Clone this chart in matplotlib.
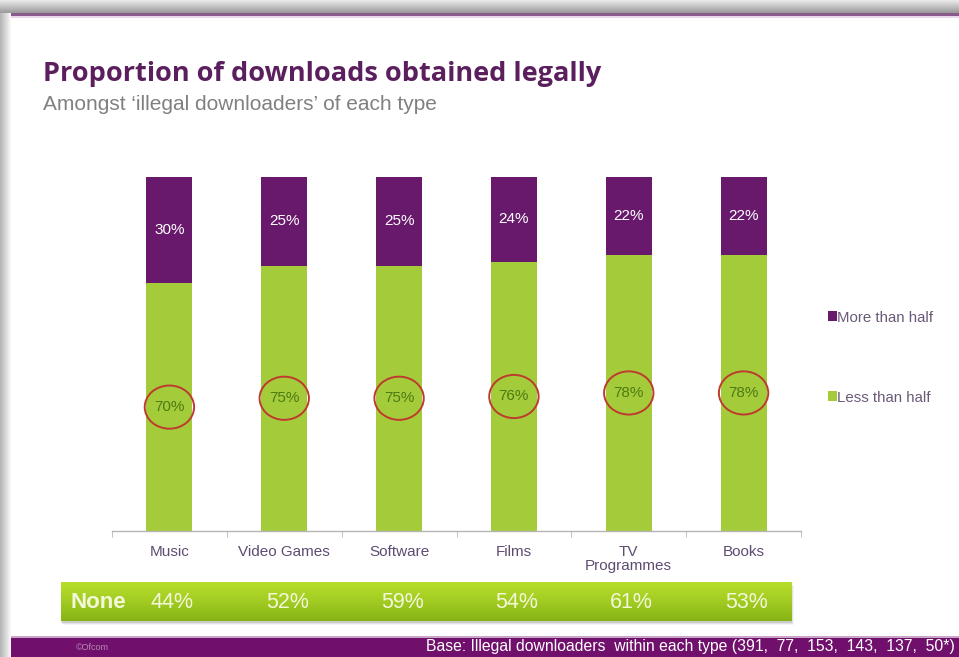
import numpy as np
import matplotlib
matplotlib.use("Agg")
import matplotlib.pyplot as plt
from matplotlib.patches import Ellipse, Rectangle

# --- data -------------------------------------------------------------
categories = ["Music", "Video Games", "Software", "Films", "TV\nProgrammes", "Books"]
less_than_half = [70, 75, 75, 76, 78, 78]
more_than_half = [30, 25, 25, 24, 22, 22]
none_share = [44, 52, 59, 54, 61, 53]
series_labels = ["More than half", "Less than half"]

PURPLE = "#68196c"
GREEN = "#a4cc3a"
NARROW = ["Liberation Sans Narrow", "Liberation Sans", "DejaVu Sans"]

W, H = 959, 657
fig = plt.figure(figsize=(W / 100, H / 100), dpi=100, facecolor="white")


def box(x0, y0, x1, y1):
    """pixel box (top-left origin) -> figure fraction rect"""
    return [x0 / W, 1 - y1 / H, (x1 - x0) / W, (y1 - y0) / H]


# --- slide background, frame shadows, footer --------------------------
bg = fig.add_axes([0, 0, 1, 1], zorder=0)
bg.axis("off")

top_grad = np.linspace(0.92, 0.60, 50).reshape(-1, 1)
bg.imshow(top_grad, cmap="gray", vmin=0, vmax=1, extent=[0, W, 13, 0],
          aspect="auto", interpolation="bicubic", zorder=1)
left_grad = np.linspace(0.70, 0.98, 50).reshape(1, -1)
bg.imshow(left_grad, cmap="gray", vmin=0, vmax=1, extent=[0, 11, H, 13],
          aspect="auto", interpolation="bicubic", zorder=1)
bg.add_patch(Rectangle((11, 13), W - 11, 2.5, color="#8a5a8c", lw=0, zorder=2))
bg.add_patch(Rectangle((11, 15.5), W - 11, 2, color="#e8d8ea", lw=0, zorder=2))

bg.add_patch(Rectangle((11, 638), W - 11, H - 638, color="#70106c", lw=0, zorder=2))
bg.add_patch(Rectangle((11, 636), W - 11, 2, color="#c9a6c8", lw=0, zorder=2))
bg.text(76, 648, "\u00a9Ofcom", fontsize=6.5, color="#b888b5", va="center",
        family=NARROW, zorder=3)
bg.text(955, 647, "Base: Illegal downloaders  within each type (391,  77,  153,  143,  137,  50*)",
        fontsize=11.3, color="white", va="center", ha="right", family=NARROW, zorder=3)

# title block
bg.text(43, 74, "Proportion of downloads obtained legally", fontsize=19.5,
        fontweight="bold", color="#5b1f5e", va="center",
        family=["Open Sans", "DejaVu Sans"], zorder=3)
bg.text(43, 104, "Amongst \u2018illegal downloaders\u2019 of each type", fontsize=15,
        color="#808080", va="center", family=NARROW, zorder=3)

# green "None" band with a soft drop shadow
for i, a in enumerate([0.10, 0.07, 0.04]):
    bg.add_patch(Rectangle((61 + i, 584 + i), 731, 39, color="black", alpha=a,
                           lw=0, zorder=2))
band_grad = np.linspace(0, 1, 60).reshape(-1, 1)
band_cmap = matplotlib.colors.LinearSegmentedColormap.from_list(
    "band", ["#b8de2c", "#a2cc22", "#86b314"])
bg.imshow(band_grad, cmap=band_cmap, extent=[61, 792, 621, 582],
          aspect="auto", interpolation="bicubic", zorder=2.5)
bg.text(70, 602, "None", fontsize=16, fontweight="bold", color="#f3f8da",
        va="center", zorder=3, family=["Liberation Sans", "DejaVu Sans"])
bg.set_xlim(0, W)
bg.set_ylim(H, 0)

# --- stacked bars -----------------------------------------------------
ax = fig.add_axes(box(112, 177, 801, 531), zorder=1)
ax.patch.set_alpha(0)
x = np.arange(len(categories))
bw = 0.40
b_less = ax.bar(x, less_than_half, bw, color=GREEN, label=series_labels[1])
b_more = ax.bar(x, more_than_half, bw, bottom=less_than_half, color=PURPLE,
                label=series_labels[0])
ax.set_xlim(-0.5, len(categories) - 0.5)
ax.set_ylim(0, 100)

for xi, lo, hi in zip(x, less_than_half, more_than_half):
    ax.text(xi, lo + hi / 2, f"{hi}%", ha="center", va="center",
            color="white", fontsize=11, family=NARROW)
    ax.text(xi, lo / 2, f"{lo}%", ha="center", va="center",
            color="#4e7a14", fontsize=11, family=NARROW)
    ax.add_patch(Ellipse((xi, lo / 2), 0.43, 12.2, fill=False,
                         edgecolor="#bf3a2e", lw=1.4))

# "None" shares under each category
for xi, v in zip(x, none_share):
    xp = 112 + (xi + 0.5) * (801 - 112) / len(categories) + 3
    bg.text(xp, 602, f"{v}%", fontsize=15.5, color="#f3f8da", ha="center",
            va="center", zorder=3, family=["Liberation Sans", "DejaVu Sans"])

for s in ["top", "right", "left"]:
    ax.spines[s].set_visible(False)
ax.spines["bottom"].set_color("#b5b5b5")
ax.spines["bottom"].set_linewidth(1.0)
ax.set_yticks([])
ax.set_xticks(x)
ax.set_xticklabels(categories, fontsize=11, color="#5e4c72", family=NARROW,
                   linespacing=1.0)
ax.tick_params(axis="x", which="major", length=0, pad=10)
ax.set_xticks(np.arange(-0.5, len(categories)), minor=True)
ax.tick_params(axis="x", which="minor", length=4, color="#b5b5b5", direction="out")

leg = ax.legend(handles=[b_more, b_less], labels=series_labels,
                loc="center left", bbox_to_anchor=(1.02, 0.49), frameon=False,
                handlelength=0.6, handleheight=0.6, handletextpad=0.0,
                labelspacing=4.4, prop={"family": NARROW, "size": 10.8})
for t in leg.get_texts():
    t.set_color("#6a5a78")

fig.savefig("out.png", dpi=100)
